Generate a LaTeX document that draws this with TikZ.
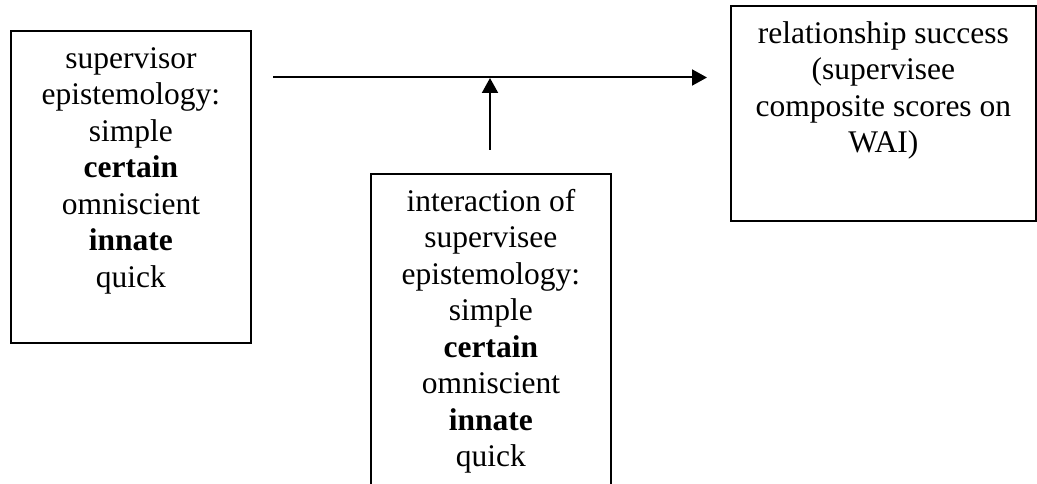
\documentclass[tikz,border=0pt]{standalone}
\usepackage{fontspec}
\setmainfont{Liberation Serif}
\usetikzlibrary{arrows.meta}
\begin{document}
\begin{tikzpicture}[x=1pt,y=1pt,
  box/.style={draw, line width=1.8pt, inner sep=0pt, anchor=north west},
  boxtext/.style={align=center, inner sep=0pt, anchor=north, font=\fontsize{31.5}{36.5}\selectfont},
  arrowline/.style={line width=2pt, -{Triangle[length=15pt,width=16pt]}}]
\useasboundingbox (0,0) rectangle (1037,483);
\clip (0,0) rectangle (1037,483);
% boxes
\node[box, minimum width=240pt, minimum height=312pt] (lbox) at (10,453) {};
\node[box, minimum width=305pt, minimum height=215pt] (rbox) at (730,478) {};
\node[box, minimum width=240pt, minimum height=335pt] (mbox) at (370,310) {};
% texts
\node[boxtext] (ltext) at ([yshift=-8pt]lbox.north) {\rule{0pt}{30pt}supervisor\\epistemology:\\simple\\\textbf{certain}\\omniscient\\\textbf{innate}\\quick};
\node[boxtext] (rtext) at ([yshift=-8pt]rbox.north) {\rule{0pt}{30pt}relationship success\\(supervisee\\composite scores on\\WAI)};
\node[boxtext] (mtext) at ([yshift=-8pt]mbox.north) {\rule{0pt}{30pt}interaction of\\supervisee\\epistemology:\\simple\\\textbf{certain}\\omniscient\\\textbf{innate}\\quick};
% connectors
\coordinate (hs) at (273,405.5);
\coordinate (he) at (707,405.5);
\coordinate (vs) at (490,333);
\coordinate (ve) at (490,405);
\draw[arrowline] (hs) -- (he);
\draw[arrowline] (vs) -- (ve);
\end{tikzpicture}
\end{document}
